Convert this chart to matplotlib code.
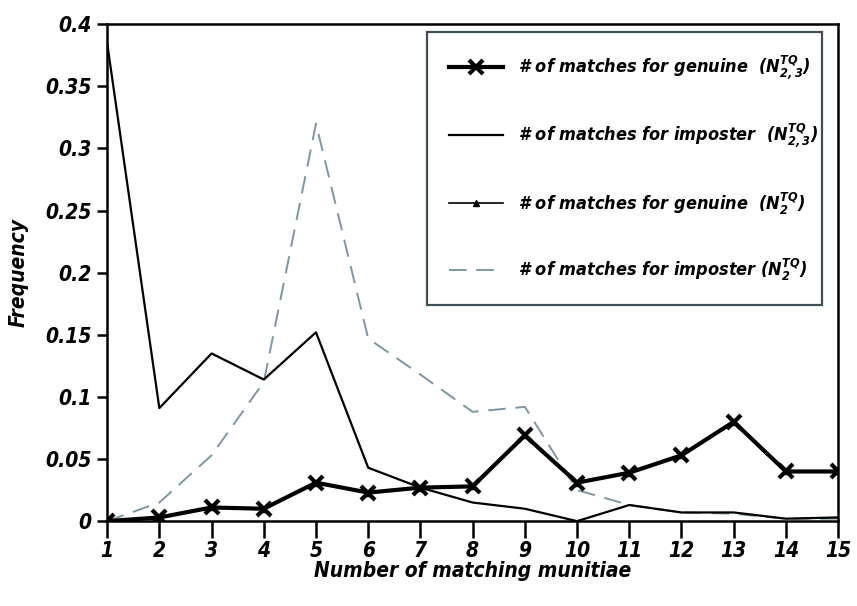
import matplotlib
matplotlib.use("Agg")
import matplotlib.pyplot as plt
from matplotlib.ticker import FixedLocator, FuncFormatter

# Police condensée, grasse et italique pour tout le graphique
plt.rcParams['font.family'] = ['DejaVu Sans']
plt.rcParams['font.stretch'] = 'condensed'
plt.rcParams['font.weight'] = 'bold'
plt.rcParams['font.style'] = 'italic'
plt.rcParams['axes.labelweight'] = 'bold'
plt.rcParams['mathtext.fontset'] = 'custom'
plt.rcParams['mathtext.it'] = 'DejaVu Sans:italic:bold'
plt.rcParams['mathtext.rm'] = 'DejaVu Sans:italic:bold'
plt.rcParams['mathtext.bf'] = 'DejaVu Sans:italic:bold'

# Nombre de minuties appariées
minuties = list(range(1, 16))

# Fréquences lues pour chaque série
genuine_23 = [0.0, 0.003, 0.011, 0.010, 0.031, 0.023, 0.027, 0.028,
              0.069, 0.031, 0.039, 0.053, 0.080, 0.040, 0.040]
imposter_23 = [0.385, 0.091, 0.135, 0.114, 0.152, 0.043, 0.027, 0.015,
               0.010, 0.0, 0.013, 0.007, 0.007, 0.002, 0.003]
genuine_2 = [0.0, 0.003, 0.011, 0.010, 0.031, 0.023, 0.027, 0.028,
             0.069, 0.031, 0.039, 0.053, 0.080, 0.040, 0.040]
imposter_2 = [0.0, 0.015, 0.053, 0.112, 0.320, 0.147, 0.118, 0.088,
              0.092, 0.025, 0.013, 0.007, 0.006, 0.002, 0.002]

labels = [r'# of matches for genuine  (N$^{TQ}_{2,3}$)',
          r'# of matches for imposter  (N$^{TQ}_{2,3}$)',
          r'# of matches for genuine  (N$^{TQ}_{2}$)',
          r'# of matches for imposter (N$^{TQ}_{2}$)']

y_ticks = [0, 0.05, 0.1, 0.15, 0.2, 0.25, 0.3, 0.35, 0.4]

fig = plt.figure(figsize=(8.57, 6.06), dpi=100)
ax = fig.add_axes([0.125, 0.140, 0.853, 0.820])

# Série "genuine N2" tracée sous la série N2,3 (mêmes valeurs)
l3, = ax.plot(minuties, genuine_2, color='black', lw=1.2, marker='^',
              markersize=5, zorder=1)
l4, = ax.plot(minuties, imposter_2, color='#7d97a2', lw=1.4,
              dashes=(9, 5), zorder=2)
l2, = ax.plot(minuties, imposter_23, color='black', lw=1.6, zorder=3)
l1, = ax.plot(minuties, genuine_23, color='black', lw=3.0, marker='x',
              markersize=10, markeredgewidth=3.0, zorder=4)

ax.set_xlim(1, 15)
ax.set_ylim(0, 0.4)
ax.xaxis.set_major_locator(FixedLocator(minuties))
ax.yaxis.set_major_locator(FixedLocator(y_ticks))
ax.yaxis.set_major_formatter(FuncFormatter(lambda v, p: f'{v:g}'))
ax.tick_params(axis='x', direction='out', length=12, width=1.8,
               labelsize=15, pad=2)
ax.tick_params(axis='y', direction='out', length=7, width=1.8,
               labelsize=15, pad=4)
for s in ax.spines.values():
    s.set_linewidth(1.8)

ax.set_xlabel('Number of matching munitiae', fontsize=15, labelpad=0)
ax.set_ylabel('Frequency', fontsize=15, labelpad=12)

leg = ax.legend([l1, l2, l3, l4], labels, loc='upper left',
                bbox_to_anchor=(0.488, 0.508, 0.482, 0.454),
                bbox_transform=fig.transFigure, mode='expand',
                fontsize=13, handlelength=3.0, handletextpad=0.8,
                labelspacing=2.2, borderpad=1.2, fancybox=False,
                framealpha=1)
leg.get_frame().set_edgecolor('#3f4f55')
leg.get_frame().set_linewidth(1.6)

fig.savefig('out.png', dpi=100)
